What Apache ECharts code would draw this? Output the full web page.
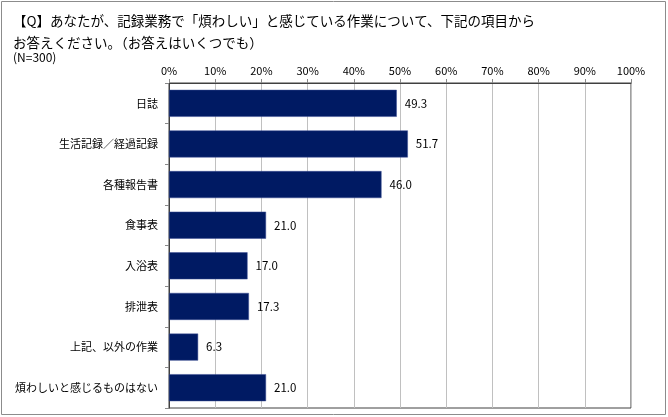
<!DOCTYPE html>
<html>
<head>
<meta charset="utf-8">
<script src="https://cdn.jsdelivr.net/npm/echarts@6/dist/echarts.min.js"></script>
<style>
  html, body { margin: 0; padding: 0; background: #fff; }
  #main { width: 668px; height: 417px; }
</style>
</head>
<body>
<div id="main"></div>
<script>
const categories = ['日誌', '生活記録／経過記録', '各種報告書', '食事表', '入浴表', '排泄表', '上記、以外の作業', '煩わしいと感じるものはない'];
const values = [49.3, 51.7, 46.0, 21.0, 17.0, 17.3, 6.3, 21.0];
const titleLines = ['【Q】あなたが、記録業務で「煩わしい」と感じている作業について、下記の項目から', 'お答えください。（お答えはいくつでも）'];
const sampleNote = '(N=300)';

const font = '"Noto Sans CJK JP", "Noto Sans", sans-serif';
const chart = echarts.init(document.getElementById('main'));

chart.setOption({
  animation: false,
  textStyle: { fontFamily: font },
  graphic: [
    { type: 'rect', shape: { x: 1.5, y: 1.5, width: 664, height: 413 },
      style: { fill: 'none', stroke: '#8c8c8c', lineWidth: 1 } },
    { type: 'text', left: 13, top: 10,
      style: { text: titleLines.join('\n'), font: '13.5px ' + font, lineHeight: 22, fill: '#000' } },
    { type: 'text', left: 13, top: 51,
      style: { text: sampleNote, font: '12px ' + font, fill: '#000' } }
  ],
  grid: {
    left: 169, right: 37, top: 83, bottom: 9,
    show: true, borderColor: '#404040', borderWidth: 1
  },
  xAxis: {
    type: 'value', position: 'top', min: 0, max: 100, interval: 10,
    axisLabel: { formatter: '{value}%', color: '#000', fontSize: 11, margin: 7 },
    axisLine: { show: true, lineStyle: { color: '#404040' } },
    axisTick: { show: true, length: 4, lineStyle: { color: '#888' } },
    splitLine: { lineStyle: { color: '#c0c0c0', width: 1 } }
  },
  yAxis: {
    type: 'category', data: categories, inverse: true,
    axisLabel: { color: '#000', fontSize: 11, margin: 11 },
    axisLine: { show: true, lineStyle: { color: '#404040' } },
    axisTick: { show: true, length: 4, lineStyle: { color: '#888' } }
  },
  series: [{
    type: 'bar', data: values, barWidth: 27,
    itemStyle: { color: '#001a63', borderColor: '#3a4f94', borderWidth: 0.5 },
    label: {
      show: true, position: 'right', distance: 8, color: '#000', fontSize: 11.5,
      formatter: p => p.value.toFixed(1)
    }
  }]
});
</script>
</body>
</html>
